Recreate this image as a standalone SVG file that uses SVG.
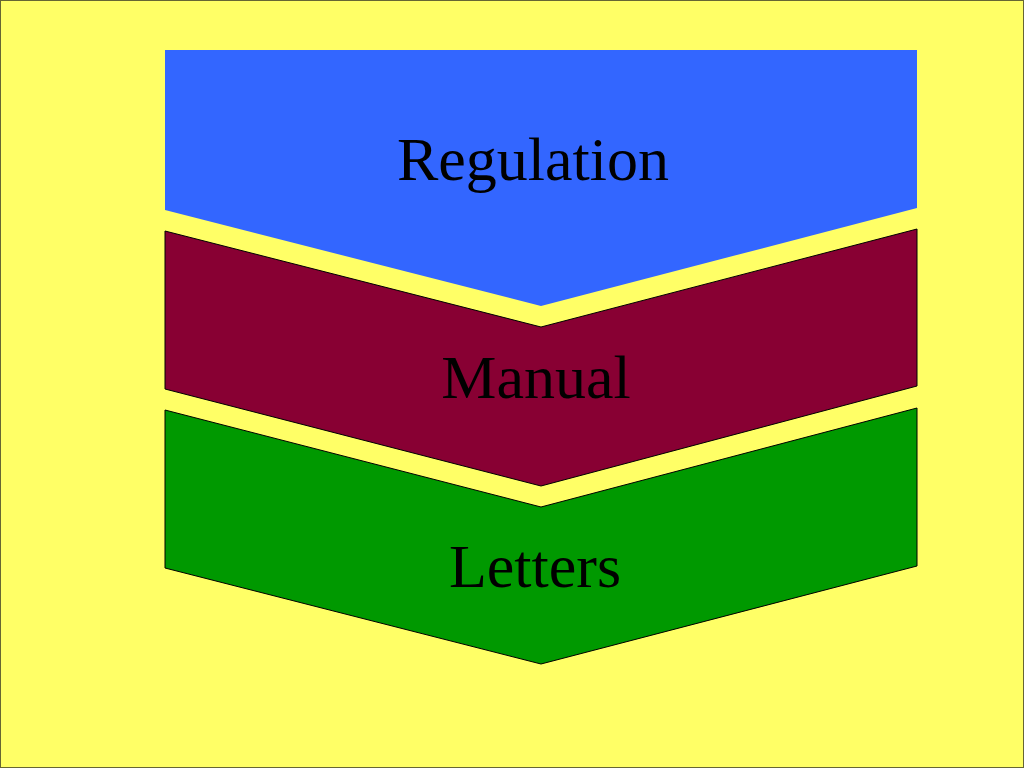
<svg xmlns="http://www.w3.org/2000/svg" width="1024" height="768" viewBox="0 0 1024 768">
<style>
.lbl{font-family:"Liberation Serif","Times New Roman",serif;font-size:62px;fill:#000;text-anchor:middle}
.sh{stroke:#000;stroke-width:1}
</style>
<rect x="0.5" y="0.5" width="1023" height="767" fill="#FFFF66" stroke="#666633" stroke-width="1"/>
<g id="regulation">
<polygon points="165,50 917,50 917,208 541,306 165,210" fill="#3366FF"/>
<text class="lbl" x="533" y="180">Regulation</text>
</g>
<g id="manual">
<polygon class="sh" points="165,231 541,327 917,229 917,386 541,486 165,389" fill="#880033"/>
<text class="lbl" x="536" y="398">Manual</text>
</g>
<g id="letters">
<polygon class="sh" points="165,410 541,507 917,408 917,566 541,664 165,568" fill="#009900"/>
<text class="lbl" x="535" y="587">Letters</text>
</g>
<g id="connectors"/>
</svg>
